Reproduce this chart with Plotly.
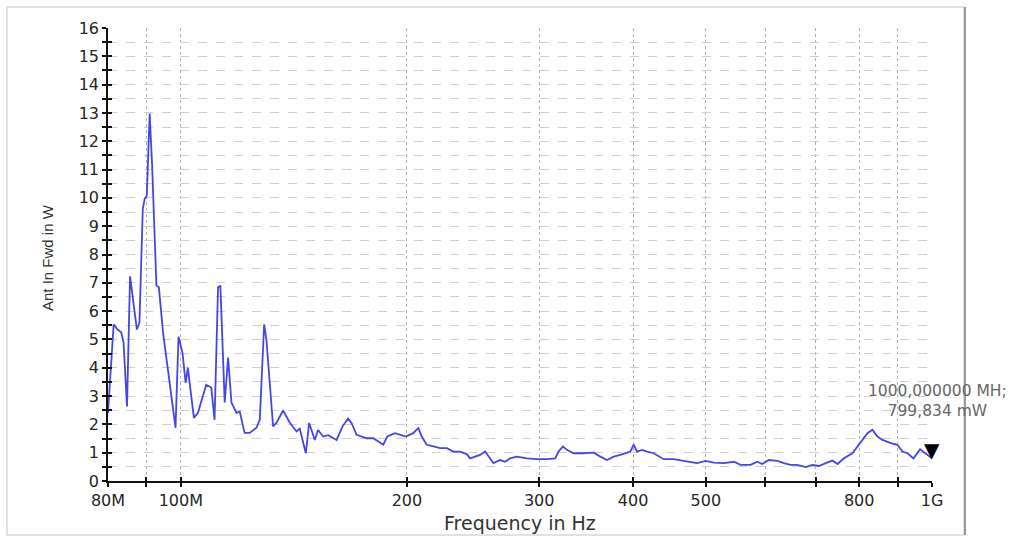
import numpy as np
import plotly.graph_objects as go

# ---- data ----
freq_mhz = [80.0, 81.4, 82.4, 83.3, 83.9, 84.8, 85.6, 86.3, 87.4, 88.1,
            89.0, 89.5, 90.1, 90.9, 91.6, 92.8, 93.5, 94.7, 96.6, 98.4,
            99.3, 100.5, 101.5, 102.2, 103.0, 104.1, 105.4, 108.1, 109.8, 110.9,
            112.1, 112.9, 114.4, 115.6, 116.8, 118.6, 119.8, 121.6, 123.5, 126.1,
            127.4, 129.1, 130.0, 132.7, 134.1, 136.8, 139.7, 142.6, 144.0, 146.7,
            148.2, 150.8, 152.3, 154.7, 157.1, 161.2, 164.2, 167.0, 168.8, 171.4,
            176.8, 180.4, 186.0, 188.3, 192.8, 196.8, 199.4, 203.9, 207.1, 209.3,
            212.5, 216.9, 221.4, 226.0, 230.6, 235.4, 240.3, 242.7, 246.5, 250.3,
            254.2, 260.7, 266.1, 270.2, 274.4, 280.1, 288.9, 297.9, 307.2, 315.1,
            318.3, 322.6, 326.6, 333.3, 343.7, 354.4, 361.8, 369.3, 376.9, 384.7,
            396.7, 400.7, 404.9, 411.2, 417.5, 426.1, 439.4, 453.1, 467.2, 476.9,
            486.9, 499.4, 512.3, 528.3, 544.8, 556.0, 573.4, 585.3, 594.3, 606.5,
            622.4, 635.1, 648.3, 661.8, 678.9, 693.0, 707.2, 721.9, 736.9, 748.3,
            763.6, 783.5, 803.7, 820.4, 833.1, 846.0, 859.1, 881.2, 899.5, 913.4,
            927.6, 944.9, 964.2, 981.2, 1000.0]
power_w = [2.4, 5.53, 5.35, 5.25, 4.9, 2.63, 7.23, 6.5, 5.35, 5.6,
           9.6, 9.96, 10.07, 12.98, 11.1, 6.9, 6.84, 5.25, 3.58, 1.88,
           5.1, 4.54, 3.47, 4.0, 3.23, 2.23, 2.41, 3.4, 3.3, 2.16,
           6.84, 6.9, 2.77, 4.36, 2.77, 2.41, 2.45, 1.70, 1.70, 1.88,
           2.16, 5.53, 5.0, 1.93, 2.06, 2.49, 2.06, 1.75, 1.85, 0.98,
           2.05, 1.45, 1.80, 1.57, 1.62, 1.45, 1.93, 2.21, 2.04, 1.63,
           1.51, 1.51, 1.28, 1.57, 1.69, 1.63, 1.57, 1.69, 1.87, 1.57,
           1.28, 1.22, 1.16, 1.16, 1.04, 1.04, 0.95, 0.80, 0.86, 0.92,
           1.04, 0.63, 0.74, 0.68, 0.80, 0.86, 0.80, 0.77, 0.77, 0.80,
           1.04, 1.22, 1.10, 0.98, 0.98, 1.0, 0.86, 0.74, 0.86, 0.92,
           1.04, 1.28, 1.04, 1.10, 1.04, 0.98, 0.77, 0.77, 0.71, 0.68,
           0.63, 0.71, 0.65, 0.63, 0.68, 0.57, 0.57, 0.68, 0.60, 0.74,
           0.71, 0.63, 0.57, 0.57, 0.49, 0.57, 0.53, 0.63, 0.72, 0.60,
           0.80, 0.98, 1.39, 1.69, 1.81, 1.57, 1.45, 1.34, 1.28, 1.04,
           0.98, 0.80, 1.12, 0.98, 0.80]
assert len(freq_mhz) == len(power_w)

marker_freq_mhz = 1000.0
marker_power_w = 0.799834
marker_label = "1000,000000 MH;<br>799,834 mW"

x_tick_vals = [80, 90, 100, 200, 300, 400, 500, 600, 700, 800, 900, 1000]
x_tick_text = ["80M", "", "100M", "200", "300", "400", "500", "", "", "800", "", "1G"]
y_tick_vals = [v / 2 for v in range(0, 33)]
y_tick_text = [str(int(v)) if v == int(v) else "" for v in y_tick_vals]

x_title = "Frequency in Hz"
y_title = "Ant In Fwd in W"

# ---- layout geometry ----
W, H = 1021, 538
L, R, T, B = 108, 89, 28, 57
pw, ph = W - L - R, H - T - B


def px_x(p):
    return (p - L) / pw


def px_y(p):
    return (H - B - p) / ph


tick_font = dict(family="DejaVu Sans", size=16, color="#262626")
xr = [np.log10(80), np.log10(1000)]
yr = [0, 16]

fig = go.Figure()
fig.add_trace(go.Scatter(x=freq_mhz, y=power_w, mode="lines",
                         line=dict(color="#4646e6", width=1.8),
                         hoverinfo="skip", showlegend=False))
# invisible trace on overlay axes (for crossing tick marks)
fig.add_trace(go.Scatter(x=freq_mhz, y=power_w, mode="lines", xaxis="x2", yaxis="y2",
                         line=dict(width=0), opacity=0, hoverinfo="skip", showlegend=False))

fig.update_layout(
    width=W, height=H,
    margin=dict(l=L, r=R, t=T, b=B),
    paper_bgcolor="white", plot_bgcolor="white",
    showlegend=False,
    xaxis=dict(type="log", range=xr, tickmode="array", tickvals=x_tick_vals, ticktext=x_tick_text,
               ticks="outside", ticklen=4, tickwidth=2, tickcolor="#111",
               showline=True, linecolor="#111", linewidth=1.5,
               showgrid=True, gridcolor="#b0b0b0", gridwidth=1, griddash="dot",
               zeroline=False, tickfont=tick_font, fixedrange=True),
    yaxis=dict(range=yr, tickmode="array", tickvals=y_tick_vals, ticktext=y_tick_text,
               ticks="outside", ticklen=4, tickwidth=2, tickcolor="#111",
               showline=True, linecolor="#111", linewidth=1.5,
               showgrid=True, gridcolor="#cfcfcf", gridwidth=1, griddash="dash",
               zeroline=False, tickfont=tick_font, fixedrange=True),
    xaxis2=dict(type="log", range=xr, overlaying="x", anchor="y", side="bottom",
                tickmode="array", tickvals=x_tick_vals, showticklabels=False,
                ticks="inside", ticklen=4, tickwidth=2, tickcolor="#111",
                showgrid=False, showline=False, zeroline=False, fixedrange=True),
    yaxis2=dict(range=yr, overlaying="y", anchor="x", side="left",
                tickmode="array", tickvals=y_tick_vals, showticklabels=False,
                ticks="inside", ticklen=4, tickwidth=2, tickcolor="#111",
                showgrid=False, showline=False, zeroline=False, fixedrange=True),
    shapes=[
        dict(type="rect", xref="paper", yref="paper",
             x0=px_x(7), x1=px_x(964), y0=px_y(535), y1=px_y(7),
             line=dict(color="#d8d8d8", width=1.5), layer="below"),
        dict(type="line", xref="paper", yref="paper",
             x0=px_x(965), x1=px_x(965), y0=px_y(535), y1=px_y(7),
             line=dict(color="#9a9a9a", width=2)),
    ],
    annotations=[
        dict(text=x_title, xref="paper", yref="paper", x=0.5, y=px_y(523),
             xanchor="center", yanchor="middle", showarrow=False,
             font=dict(family="DejaVu Sans", size=19, color="#333333")),
        dict(text=y_title, xref="paper", yref="paper", x=px_x(47), y=px_y(258),
             xanchor="center", yanchor="middle", showarrow=False, textangle=-90,
             font=dict(family="Liberation Sans", size=15, color="#333333")),
        dict(text=marker_label, xref="x", yref="y", x=np.log10(marker_freq_mhz), y=marker_power_w,
             xanchor="center", yanchor="bottom", xshift=5, yshift=36, showarrow=False,
             align="center", font=dict(family="DejaVu Sans", size=15.5, color="#666666")),
        dict(text="▼", xref="x", yref="y", x=np.log10(marker_freq_mhz), y=marker_power_w,
             xanchor="center", yanchor="bottom", yshift=-6, showarrow=False,
             font=dict(family="DejaVu Sans", size=20, color="#000000")),
    ],
)

fig.write_html("out.html")
